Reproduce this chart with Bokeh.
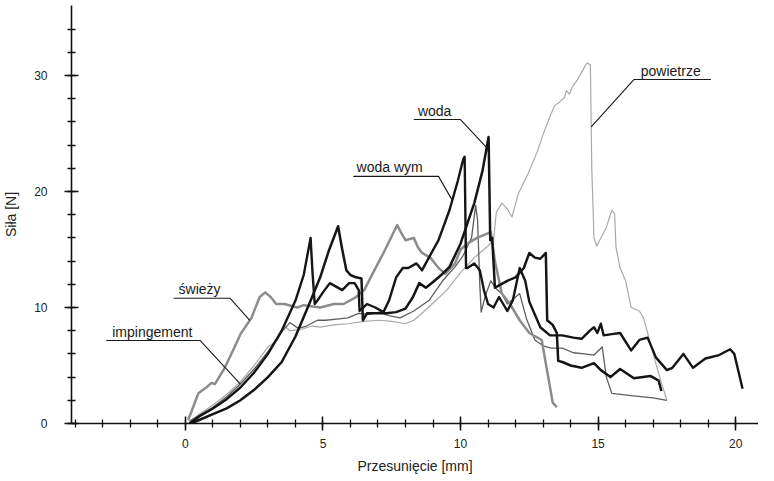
import numpy as np
from bokeh.plotting import figure
from bokeh.models import FixedTicker, Range1d, ColumnDataSource
from bokeh.core.properties import value
from bokeh.embed import file_html
from bokeh.resources import INLINE

# ---------------- data ----------------
swiezy_x = [0.1, 0.2, 0.47, 0.76, 0.95, 1.07, 1.43, 1.73, 2.0, 2.4, 2.7, 2.9, 3.1, 3.3, 3.6, 4.06, 4.3, 4.9,
            5.4, 5.75, 6.2, 6.5, 6.8, 7.2, 7.55, 7.7, 7.85, 8.0, 8.3, 8.45, 8.6, 8.9, 9.2, 9.45, 9.8, 10.0,
            10.25, 10.6, 11.1, 11.25, 11.5, 11.8, 12.15, 12.5, 12.95, 13.15, 13.35, 13.5]
swiezy_y = [0.3, 0.9, 2.6, 3.1, 3.5, 3.4, 4.8, 6.3, 7.7, 9.1, 10.9, 11.3, 10.9, 10.3, 10.3, 10.0, 10.2, 10.0,
            10.3, 10.3, 10.9, 11.5, 12.9, 14.7, 16.4, 17.1, 16.4, 15.8, 16.0, 15.2, 14.7, 14.3, 13.4, 12.9, 13.8, 15.0,
            15.5, 16.0, 16.5, 14.0, 11.2, 10.3, 8.9, 7.8, 7.2, 4.5, 1.8, 1.4]

powietrze_x = [0.1, 0.5, 1.0, 1.5, 2.0, 2.5, 3.0, 3.35, 3.6, 3.8, 4.2, 4.6, 4.9, 5.4, 5.9, 6.5, 7.05, 7.5, 8.0,
               8.3, 8.6, 9.1, 9.5, 10.0, 10.5, 11.0, 11.2, 11.3, 11.5, 11.7, 11.87, 12.1, 12.45, 12.8, 13.0,
               13.24, 13.42, 13.6, 13.78, 13.85, 13.96, 14.06, 14.24, 14.5, 14.6, 14.72, 14.77, 14.85, 14.95,
               15.3, 15.5, 15.6, 15.65, 15.8, 16.0, 16.2, 16.5, 16.65, 16.8, 17.0, 17.3, 17.5]
powietrze_y = [0.0, 0.8, 1.6, 2.5, 3.6, 5.0, 6.6, 7.2, 8.4, 8.0, 8.1, 8.4, 8.3, 8.5, 8.6, 8.8, 8.9, 8.8, 8.6,
               8.9, 9.5, 10.6, 11.5, 13.0, 14.3, 15.3, 15.8, 18.2, 19.0, 18.5, 17.8, 19.8, 21.5, 23.5, 24.9,
               26.4, 27.4, 27.7, 28.1, 28.7, 28.4, 29.0, 29.6, 30.7, 31.1, 30.9, 22.0, 16.0, 15.3,
               16.9, 18.4, 18.1, 15.2, 13.4, 12.3, 10.0, 9.7, 9.1, 7.8, 6.0, 3.5, 2.0]

impingement_x = [0.15, 0.5, 1.0, 1.5, 2.0, 2.5, 3.0, 3.5, 3.8, 4.1, 4.4, 4.8, 5.1, 5.5, 5.9, 6.3, 6.7, 7.05,
                 7.4, 7.8, 8.3, 8.85, 9.35, 9.8, 10.1, 10.4, 10.55, 10.62, 10.7, 10.75, 10.9, 11.1, 11.3,
                 11.5, 11.7, 11.95, 12.15, 12.4, 12.7, 13.0, 13.3, 13.7, 14.1, 14.5, 14.85, 15.15, 15.3,
                 15.5, 16.2, 17.0, 17.5]
impingement_y = [0.2, 0.7, 1.4, 2.3, 3.4, 4.7, 6.2, 7.9, 8.7, 8.2, 8.4, 8.9, 8.9, 9.0, 9.1, 9.5, 9.4, 9.6,
                 9.3, 9.1, 9.7, 10.6, 12.3, 13.5, 14.5, 16.0, 18.8, 17.5, 12.0, 9.6, 11.0, 12.3, 11.6,
                 11.2, 10.3, 10.8, 11.2, 9.0, 7.2, 6.7, 6.5, 6.5, 6.1, 6.0, 5.9, 6.6, 4.0,
                 2.6, 2.4, 2.2, 2.0]

woda_wym_x = [0.15, 0.5, 1.0, 1.5, 2.0, 2.5, 3.0, 3.5, 4.0, 4.3, 4.55, 4.62, 4.7, 4.8, 5.0, 5.25, 5.7, 5.95,
              6.15, 6.3, 6.33, 6.6, 6.9, 7.2, 7.4, 7.66, 7.9, 8.1, 8.4, 8.6, 8.85, 9.2, 9.6, 9.9, 10.1, 10.15,
              10.2, 10.25, 10.5, 10.7, 10.85, 11.0, 11.2, 11.4, 11.55, 11.7, 11.9, 12.15, 12.35, 12.5, 12.9,
              13.25, 13.7, 14.1, 14.4, 14.7, 14.85, 14.97, 15.1, 15.2, 15.5, 15.8, 16.2, 16.5, 16.8, 17.1,
              17.5, 17.7, 18.1, 18.45, 18.9, 19.4, 19.8, 19.95, 20.1, 20.25]
woda_wym_y = [0.0, 0.6, 1.3, 2.1, 3.1, 4.4, 6.0, 8.0, 10.6, 12.8, 16.0, 13.0, 10.3, 10.6, 11.3, 12.1, 11.5, 12.1,
              12.1, 11.5, 9.7, 10.3, 10.0, 9.6, 10.6, 12.6, 13.4, 13.4, 13.8, 13.2, 14.3, 15.8, 18.4, 20.9, 22.8, 23.0,
              13.4, 13.4, 13.8, 13.2, 11.5, 10.3, 10.0, 10.9, 10.3, 9.7, 10.6, 13.4, 12.3, 10.5, 8.3,
              7.6, 7.6, 7.4, 7.3, 8.0, 8.3, 7.8, 8.6, 7.6, 7.7, 7.8, 6.3, 7.2, 7.4, 5.7,
              4.6, 4.8, 6.0, 4.8, 5.6, 5.9, 6.4, 6.0, 4.5, 3.0]

woda_x = [0.2, 0.5, 1.0, 1.5, 2.0, 2.5, 3.0, 3.5, 4.0, 4.5, 4.9, 5.2, 5.55, 5.7, 5.85, 6.0, 6.2, 6.4, 6.45,
          6.6, 6.95, 7.3, 7.66, 8.0, 8.27, 8.5, 8.74, 9.0, 9.3, 9.6, 10.0, 10.5, 10.8, 11.02, 11.08, 11.15,
          11.25, 11.4, 11.7, 12.0, 12.3, 12.5, 12.7, 12.9, 13.1, 13.15, 13.35, 13.5, 13.55, 13.7, 14.0, 14.4,
          14.85, 15.1, 15.45, 15.8, 16.3, 16.9, 17.2, 17.3]
woda_y = [0.0, 0.3, 0.8, 1.3, 2.0, 2.9, 4.0, 5.3, 7.5, 10.3, 12.6, 14.8, 17.0, 15.0, 13.2, 12.8, 12.6, 12.5, 8.9,
          9.5, 9.5, 9.5, 9.6, 9.9, 10.9, 12.1, 11.7, 12.2, 12.8, 13.5, 15.5, 19.0, 21.8, 24.7, 15.8, 16.0,
          11.7, 11.9, 12.3, 12.6, 13.4, 14.7, 14.3, 14.2, 14.7, 8.9, 8.5, 7.8, 5.4, 5.3, 5.0, 4.8,
          5.2, 4.6, 4.0, 4.7, 3.9, 4.1, 3.7, 2.8]

x_ticks = [0, 5, 10, 15, 20]
y_ticks = [0, 10, 20, 30]

# labels with leader lines
label_names = ["powietrze", "woda", "woda wym", "świeży", "impingement"]
label_text_x = [16.55, 8.45, 6.22, -0.25, -2.66]
label_line_y = [29.65, 26.2, 21.3, 10.8, 7.15]
label_line_x0 = [16.3, 8.3, 6.1, -0.43, -2.88]
label_line_x1 = [19.1, 10.0, 9.2, 1.62, 0.54]
label_target_x = [14.75, 10.95, 9.7, 2.34, 2.0]

FONT = "Liberation Sans"

p = figure(width=758, height=477,
           x_range=Range1d(-4.14, 20.83), y_range=Range1d(0, 36.03),
           output_backend="svg", toolbar_location=None,
           min_border_left=64, min_border_right=0, min_border_top=5, min_border_bottom=54)
p.outline_line_color = None
p.grid.visible = False
p.background_fill_color = "white"
p.border_fill_color = "white"

series = [
    (powietrze_x, powietrze_y, "#a9a9a9", 1.2),
    (impingement_x, impingement_y, "#5e5e5e", 1.3),
    (swiezy_x, swiezy_y, "#8c8c8c", 2.5),
    (woda_wym_x, woda_wym_y, "#151515", 2.4),
    (woda_x, woda_y, "#151515", 2.5),
]
for xs, ys, col, w in series:
    p.line(xs, ys, line_color=col, line_width=w, line_join="round")

# leader lines and label texts
lookup = {"powietrze": (powietrze_x, powietrze_y), "woda": (woda_x, woda_y),
          "woda wym": (woda_wym_x, woda_wym_y), "świeży": (swiezy_x, swiezy_y),
          "impingement": (impingement_x, impingement_y)}
lead_xs, lead_ys = [], []
for name, ly, x0, x1, tx in zip(label_names, label_line_y, label_line_x0, label_line_x1, label_target_x):
    sx, sy = lookup[name]
    ty = float(np.interp(tx, sx, sy))
    if name == "powietrze":
        lead_xs.append([x1, x0, tx])
    else:
        lead_xs.append([x0, x1, tx])
    lead_ys.append([ly, ly, ty])
p.multi_line(lead_xs, lead_ys, line_color="#1a1a1a", line_width=1.1)

src = ColumnDataSource(dict(x=label_text_x, y=label_line_y, t=label_names))
p.text(x="x", y="y", text="t", source=src, text_font=value(FONT), text_font_size="14px",
       text_color="#1a1a1a", text_baseline="alphabetic", y_offset=-9)

# axes
p.xaxis.ticker = FixedTicker(ticks=x_ticks, minor_ticks=list(range(-4, 22)))
p.yaxis.ticker = FixedTicker(ticks=y_ticks, minor_ticks=list(range(0, 36, 2)))
p.xaxis.axis_label = "Przesunięcie [mm]"
p.yaxis.axis_label = "Siła [N]"
for ax in (p.xaxis, p.yaxis):
    ax.axis_line_color = "#111111"
    ax.axis_line_width = 1.6
    ax.major_tick_line_color = "#111111"
    ax.major_tick_line_width = 1.5
    ax.minor_tick_line_color = "#111111"
    ax.minor_tick_line_width = 1.3
    ax.major_tick_in = 7
    ax.major_tick_out = 7
    ax.minor_tick_in = 4
    ax.minor_tick_out = 4
    ax.major_label_text_font = FONT
    ax.major_label_text_font_size = "12px"
    ax.major_label_text_color = "#222222"
    ax.axis_label_text_font = FONT
    ax.axis_label_text_font_size = "14px"
    ax.axis_label_text_font_style = "normal"
    ax.axis_label_text_color = "#222222"
p.xaxis.major_label_standoff = 8
p.xaxis.axis_label_standoff = 7
p.yaxis.major_label_standoff = 17
p.yaxis.axis_label_standoff = 12

open("out.html", "w").write(file_html(p, INLINE))
